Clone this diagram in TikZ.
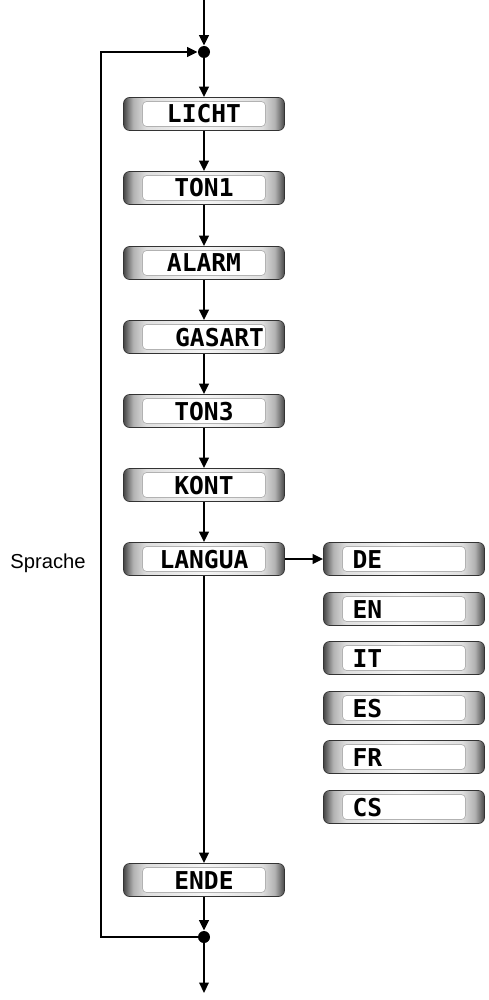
\documentclass[tikz,border=0pt]{standalone}
\usepackage{fontspec}
\setmainfont{Liberation Sans}
\setmonofont{DejaVu Sans Mono}
\usetikzlibrary{positioning, arrows.meta}

\pgfdeclarehorizontalshading{lcdbar}{100bp}{%
	color(0bp)=(gray!55!black); color(25bp)=(gray!55!black);
	color(28bp)=(gray!60); color(32bp)=(gray!25); color(50bp)=(gray!8);
	color(68bp)=(gray!25); color(72bp)=(gray!60);
	color(75bp)=(gray!55!black); color(100bp)=(gray!55!black)}

\begin{document}
\begin{tikzpicture}[
			% GLOBAL CFG
			x=0.02cm, y=-0.02cm,
			>={Triangle[length=2.1mm, width=1.9mm]},
			% Styles
			frame/.style={% For the grey outer box
				rectangle,
				rounded corners=1.2mm,
				draw=gray!40!black,
				shading=lcdbar,
				minimum width=3.22cm,
				minimum height=0.66cm,
			},
			panel/.style={% For the white display inside
				rectangle,
				rounded corners=0.8mm,
				draw=gray!60,
				fill=white,
				minimum width=2.46cm,
				minimum height=0.5cm,
				inner xsep=0.2cm,
				inner ysep=0pt,
				text width=2.06cm,
				text height=0.36cm,
				text depth=0pt,
				align=center,
				font=\ttfamily\bfseries\fontsize{14}{14}\selectfont,
			},
			lpanel/.style={% Language displays
				panel,
				align=left,
			},
			dot/.style={% For the junctions
				circle,
				fill=black,
				minimum size=0.24cm,
				inner sep=0pt,
			},
			mylabel/.style={%
				font=\fontsize{11.5}{12}\selectfont
			},
			line/.style={%
				line width=1.2pt,
			},
			]
			\useasboundingbox (0,0) rectangle (488,1000);
			
			% Junctions and free ends
			\coordinate (start) at (204,0);
			\coordinate (stop) at (204,993);
			\coordinate (loop) at (101,0);
			\node[dot] (dott) at (204,52) {};
			\node[dot] (dotb) at (204,937) {};
			
			% Main column
			\node[frame] (licht) at (204,114) {};
			\node[panel] (licht-t) at (licht) {LICHT};
			\node[frame] (ton1) at (204,188) {};
			\node[panel] (ton1-t) at (ton1) {TON1};
			\node[frame] (alarm) at (204,263) {};
			\node[panel] (alarm-t) at (alarm) {ALARM};
			\node[frame] (gasart) at (204,337) {};
			\node[panel, text width=2.4cm, inner xsep=0.03cm, align=right] (gasart-t) at (gasart) {GASART};
			\node[frame] (ton3) at (204,411) {};
			\node[panel] (ton3-t) at (ton3) {TON3};
			\node[frame] (kont) at (204,485) {};
			\node[panel] (kont-t) at (kont) {KONT};
			\node[frame] (langua) at (204,559) {};
			\node[panel] (langua-t) at (langua) {LANGUA};
			\node[frame] (ende) at (204,880) {};
			\node[panel] (ende-t) at (ende) {ENDE};
			
			% Languages
			\node[frame] (de) at (404,559) {};
			\node[lpanel] (de-t) at (de) {DE};
			\node[frame] (en) at (404,609) {};
			\node[lpanel] (en-t) at (en) {EN};
			\node[frame] (it) at (404,658) {};
			\node[lpanel] (it-t) at (it) {IT};
			\node[frame] (es) at (404,708) {};
			\node[lpanel] (es-t) at (es) {ES};
			\node[frame] (fr) at (404,757) {};
			\node[lpanel] (fr-t) at (fr) {FR};
			\node[frame] (cs) at (404,807) {};
			\node[lpanel] (cs-t) at (cs) {CS};
			
			\node[mylabel] (sprache) at (48,563) {Sprache};
			
			% Drawing arrows
			\draw[->, line] (start) -- (dott);
			\draw[->, line] (dott) -- (licht);
			\draw[->, line] (licht) -- (ton1);
			\draw[->, line] (ton1) -- (alarm);
			\draw[->, line] (alarm) -- (gasart);
			\draw[->, line] (gasart) -- (ton3);
			\draw[->, line] (ton3) -- (kont);
			\draw[->, line] (kont) -- (langua);
			\draw[->, line] (langua) -- (de);
			\draw[->, line] (langua) -- (ende);
			\draw[->, line] (ende) -- (dotb);
			\draw[->, line] (dotb) -- (stop);
			\draw[->, line] (dotb) -- (dotb -| loop) |- (dott);
			
		\end{tikzpicture}
\end{document}
